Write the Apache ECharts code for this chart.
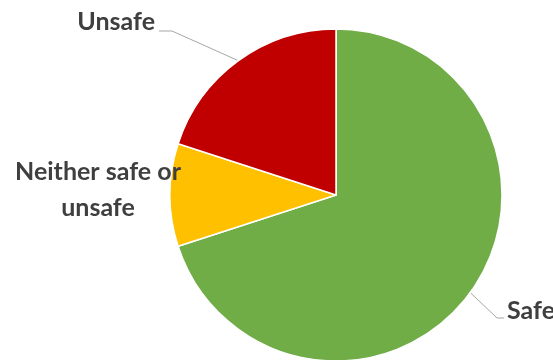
<!DOCTYPE html>
<html>
<head>
<meta charset="utf-8">
<script src="https://cdn.jsdelivr.net/npm/echarts@6/dist/echarts.min.js"></script>
<style>
  html, body { margin: 0; padding: 0; background: #fff; }
  #main { width: 553px; height: 360px; }
</style>
</head>
<body>
<div id="main"></div>
<script>
// categories and shares (clockwise from 12 o'clock)
var categories = ['Safe', 'Neither safe or\nunsafe', 'Unsafe'];
var shares = [70, 10, 20];
var colors = ['#70ad47', '#ffc000', '#c00000'];

// where each label sits (text anchor + bend of the leader line)
var labelSpots = [
    {x: 507, y: 311, align: 'left', bend: [497, 318], end: [504, 318]},
    {x: 98, y: 190, align: 'center'},
    {x: 155, y: 22, align: 'right', bend: [172, 31], end: [159, 31]}
];

var myChart = echarts.init(document.getElementById('main'));

var data = [];
for (var i = 0; i < categories.length; i++) {
    data.push({
        name: categories[i],
        value: shares[i],
        itemStyle: {color: colors[i]},
        labelLine: {show: !!labelSpots[i].bend}
    });
}

var option = {
    animation: false,
    series: [
        {
            type: 'pie',
            center: [336, 195],
            radius: 166,
            startAngle: 90,
            clockwise: true,
            itemStyle: {
                borderColor: '#fff',
                borderWidth: 1.5
            },
            label: {
                show: true,
                position: 'outside',
                overflow: 'none',
                fontFamily: 'Lato',
                fontWeight: 'bold',
                fontSize: 25,
                lineHeight: 36,
                color: '#3f3f3f'
            },
            labelLine: {
                show: true,
                lineStyle: {color: '#a6a6a6', width: 1}
            },
            labelLayout: function (p) {
                var s = labelSpots[p.dataIndex];
                var out = {x: s.x, y: s.y, align: s.align, verticalAlign: 'middle'};
                if (s.bend && p.labelLinePoints) {
                    out.labelLinePoints = [p.labelLinePoints[0], s.bend, s.end];
                }
                return out;
            },
            data: data
        }
    ]
};
myChart.setOption(option);
</script>
</body>
</html>
